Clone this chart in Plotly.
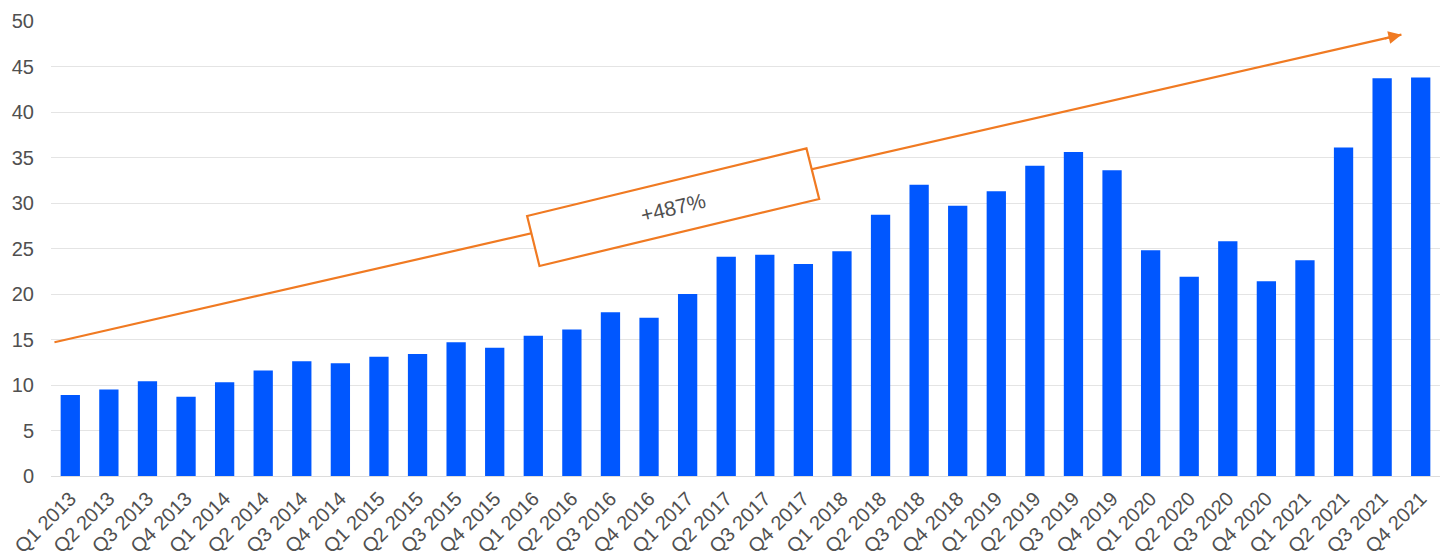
import plotly.graph_objects as go

quarters = [f"Q{q} {y}" for y in range(2013, 2022) for q in range(1, 5)]
values = [
    8.9, 9.5, 10.4, 8.7,
    10.3, 11.6, 12.6, 12.4,
    13.1, 13.4, 14.7, 14.1,
    15.4, 16.1, 18.0, 17.4,
    20.0, 24.1, 24.3, 23.3,
    24.7, 28.7, 32.0, 29.7,
    31.3, 34.1, 35.6, 33.6,
    24.8, 21.9, 25.8, 21.4,
    23.7, 36.1, 43.7, 43.8,
]
y_ticks = [0, 5, 10, 15, 20, 25, 30, 35, 40, 45, 50]
growth_label = "+487%"

BAR = "#0057FF"
ORANGE = "#F07A22"
TXT = "#505050"
FONT = "Liberation Sans, Arial, sans-serif"

fig = go.Figure()
fig.add_trace(go.Bar(x=quarters, y=values, marker=dict(color=BAR, line=dict(width=0)),
                     width=0.5))

# trend arrow line (data coords; numeric x = category index)
x0, y0, x1, y1 = -0.41, 14.7, 34.5, 48.5
fig.add_shape(type="line", xref="x", yref="y", x0=x0, y0=y0, x1=x1, y1=y1,
              line=dict(color=ORANGE, width=2.2), layer="above")
# rotated label box
box = [(11.84, 28.57), (19.08, 36.0), (19.41, 30.44), (12.16, 23.08)]
path = "M " + " L ".join(f"{bx},{by}" for bx, by in box) + " Z"
fig.add_shape(type="path", xref="x", yref="y", path=path,
              fillcolor="white", line=dict(color=ORANGE, width=2.2), layer="above")
# arrow head
fig.add_annotation(x=x1, y=y1, xref="x", yref="y", ax=-18, ay=4.1,
                   showarrow=True, arrowhead=2, arrowsize=1.3, arrowwidth=2,
                   arrowcolor=ORANGE, text="", standoff=0)
fig.add_annotation(x=15.63, y=29.56, xref="x", yref="y", text=growth_label,
                   showarrow=False, textangle=-13.5,
                   font=dict(family=FONT, size=21, color=TXT))

fig.update_layout(
    width=1448, height=557,
    margin=dict(l=51, r=8, t=21, b=81, autoexpand=False),
    plot_bgcolor="white", paper_bgcolor="white",
    showlegend=False,
    bargap=0.5,
    font=dict(family=FONT, size=20, color=TXT),
)
fig.update_xaxes(type="category", tickangle=-45, showgrid=False, showline=False,
                 ticks="", tickfont=dict(size=20, color=TXT), automargin=False,
                 ticklabelstandoff=6, range=[-0.5, 35.5])
fig.update_yaxes(range=[0, 50], tickvals=y_ticks, showgrid=True, gridcolor="#E4E4E4",
                 gridwidth=1, zeroline=True, zerolinecolor="#DCDCDC", zerolinewidth=1,
                 showline=False, ticks="", ticklabelstandoff=16,
                 tickfont=dict(size=20, color=TXT), automargin=False)

fig.write_html("out.html")
